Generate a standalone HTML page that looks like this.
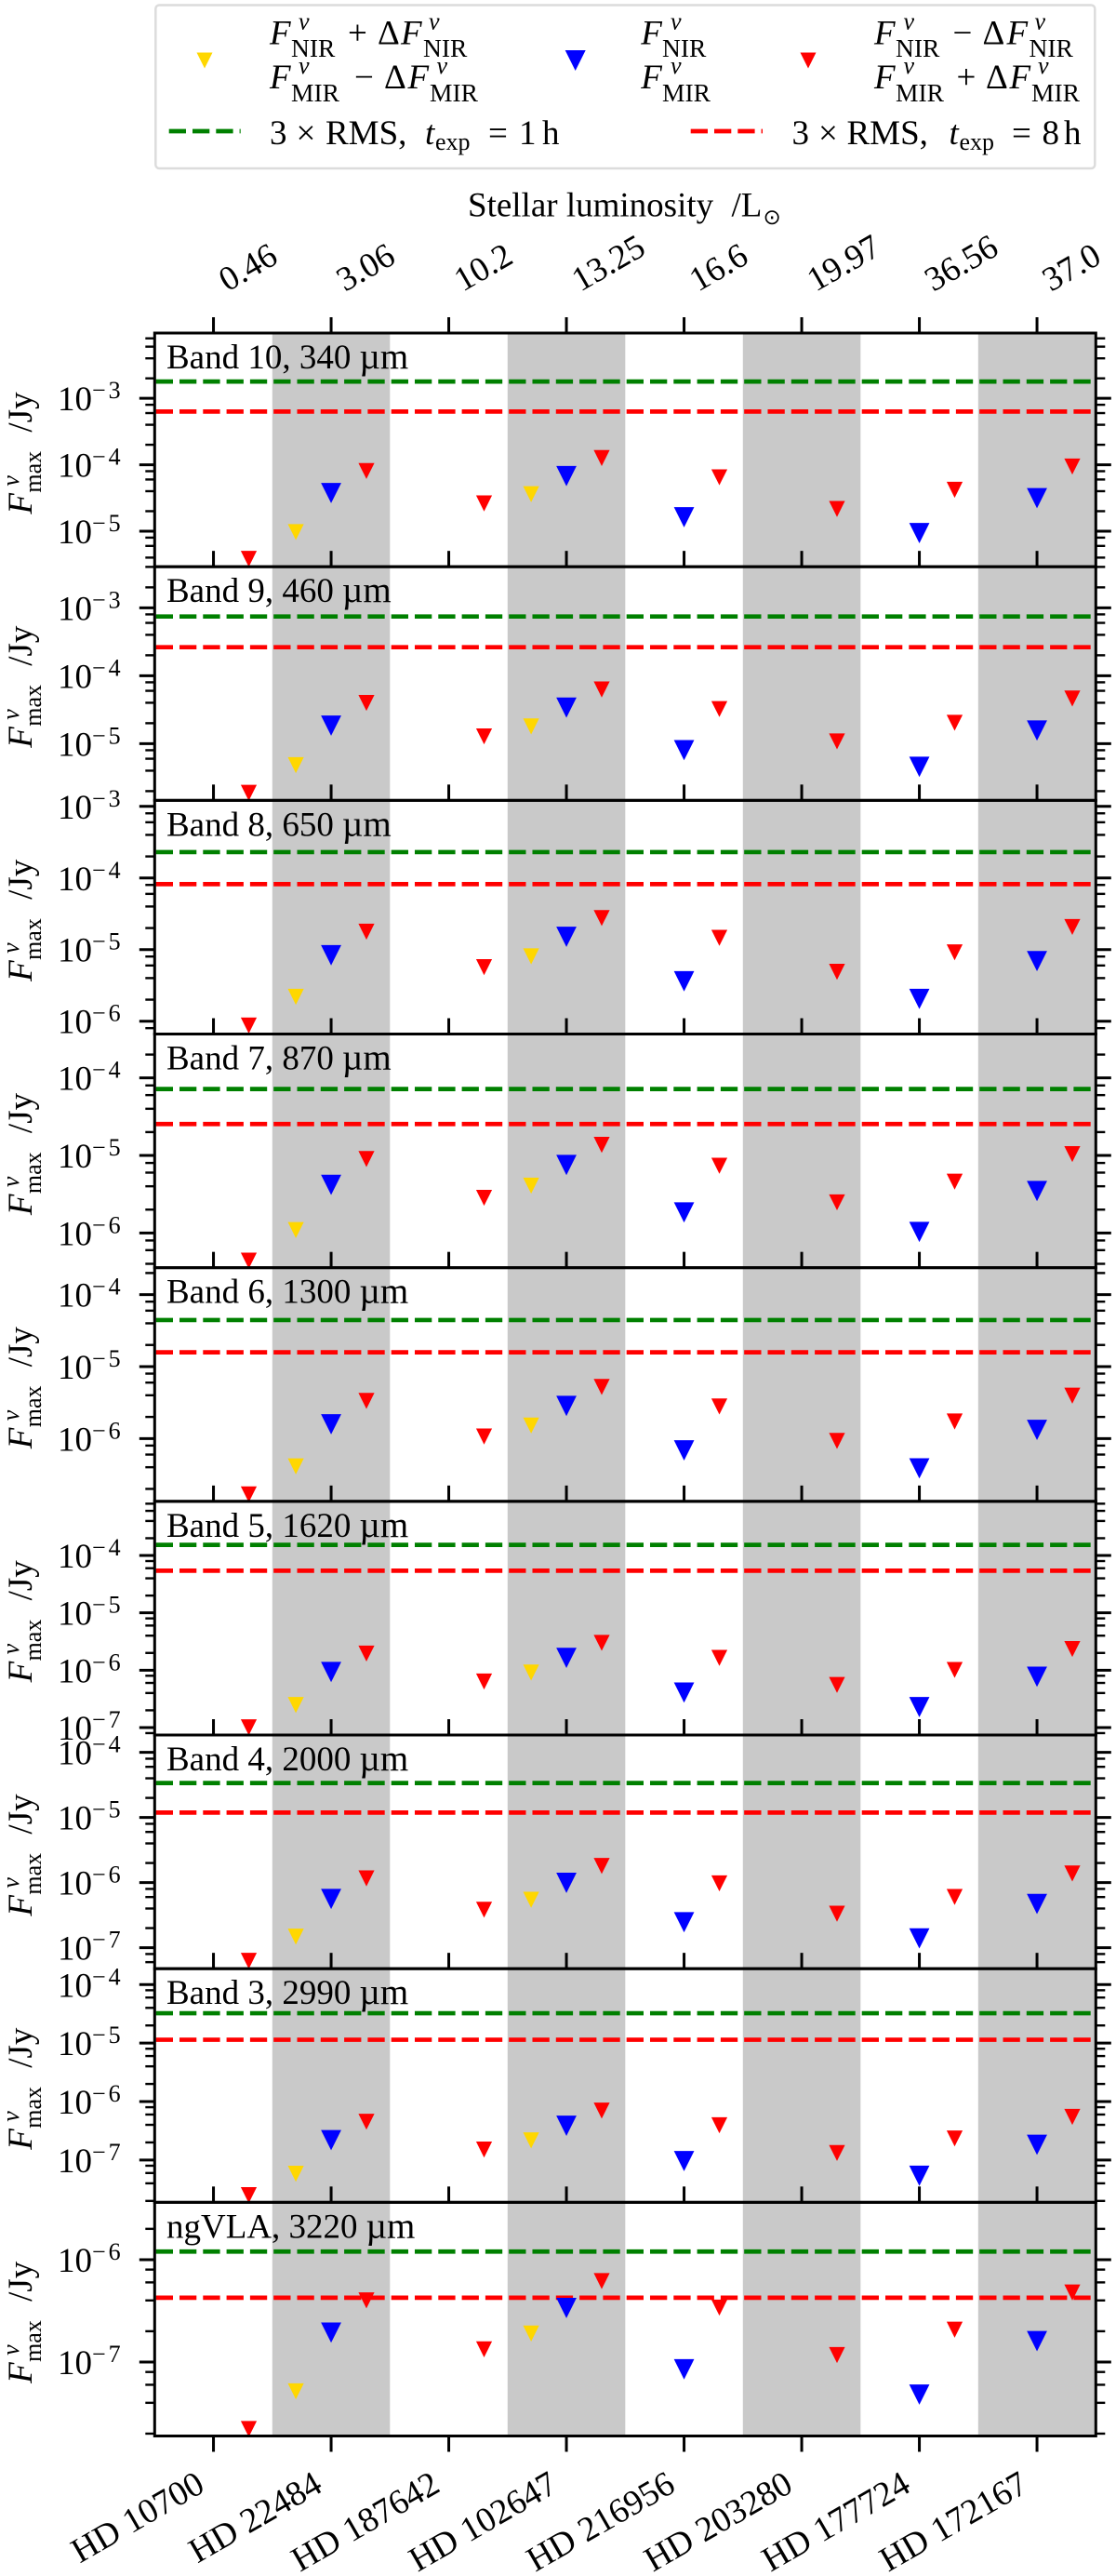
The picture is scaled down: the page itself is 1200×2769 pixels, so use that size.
<!DOCTYPE html>
<html lang="en">
<head>
<meta charset="utf-8">
<title>Maximum flux per band</title>
<style>
html,body{margin:0;padding:0;background:#fff;}
svg{display:block;}
text{font-family:"Liberation Serif","DejaVu Serif",serif;font-size:37px;fill:#000;}
.i{font-style:italic;}
.s{font-size:26px;}
.b{font-size:27.5px;}
</style>
</head>
<body>
<svg id="chart" xmlns="http://www.w3.org/2000/svg" width="1200" height="2769" viewBox="0 0 1200 2769">
  <rect x="0" y="0" width="1200" height="2769" fill="#fff"/>
  <g id="panels"></g>

  <g>
    <rect x="167.3" y="5.5" width="1010" height="175.5" rx="4" fill="#fff" stroke="#dcdcdc" stroke-width="2.5"/>

    <g>
      <polygon points="211.5,56.5 228.5,56.5 220,73.5" fill="#ffd700"/>
      <text class="i" x="290" y="47.7">F</text><text class="i s" x="321" y="31.7">ν</text><text class="b" x="313" y="61">NIR</text>
      <text x="374" y="47.7">+</text><text x="406" y="47.7">Δ</text>
      <text class="i" x="431" y="47.7">F</text><text class="i s" x="461" y="31.7">ν</text><text class="b" x="455" y="61">NIR</text>
      <text class="i" x="290" y="95">F</text><text class="i s" x="321" y="79">ν</text><text class="b" x="313" y="109">MIR</text>
      <text x="381" y="95">−</text><text x="413" y="95">Δ</text>
      <text class="i" x="438.5" y="95">F</text><text class="i s" x="469.5" y="79">ν</text><text class="b" x="462" y="109">MIR</text>
    </g>

    <g>
      <polygon points="607.7,54 629.7,54 618.7,76" fill="#0000ff"/>
      <text class="i" x="689.3" y="47.7">F</text><text class="i s" x="721" y="31.7">ν</text><text class="b" x="712" y="61">NIR</text>
      <text class="i" x="689.3" y="95">F</text><text class="i s" x="721" y="79">ν</text><text class="b" x="712" y="109">MIR</text>
    </g>

    <g>
      <polygon points="860.5,56.5 877.5,56.5 869,73.5" fill="#ff0000"/>
      <text class="i" x="940" y="47.7">F</text><text class="i s" x="971.5" y="31.7">ν</text><text class="b" x="963" y="61">NIR</text>
      <text x="1024.5" y="47.7">−</text><text x="1056.5" y="47.7">Δ</text>
      <text class="i" x="1082.5" y="47.7">F</text><text class="i s" x="1112.5" y="31.7">ν</text><text class="b" x="1106.5" y="61">NIR</text>
      <text class="i" x="940" y="95">F</text><text class="i s" x="971.5" y="79">ν</text><text class="b" x="963" y="109">MIR</text>
      <text x="1028.5" y="95">+</text><text x="1060" y="95">Δ</text>
      <text class="i" x="1085.5" y="95">F</text><text class="i s" x="1116" y="79">ν</text><text class="b" x="1109" y="109">MIR</text>
    </g>

    <g>
      <line x1="181.7" y1="141" x2="258.7" y2="141" stroke="#008000" stroke-width="4.7" stroke-dasharray="18.3 7"/>
      <text x="290" y="155">3</text><text x="318.5" y="155">×</text><text x="350" y="155">RMS,</text>
      <text class="i" x="457" y="155">t</text><text class="s" x="468" y="161">exp</text>
      <text x="525" y="155">=</text><text x="558" y="155">1</text><text x="583" y="155">h</text>
    </g>

    <g>
      <line x1="742.7" y1="141" x2="820" y2="141" stroke="#ff0000" stroke-width="4.7" stroke-dasharray="18.3 7"/>
      <text x="851.5" y="155">3</text><text x="880" y="155">×</text><text x="910.5" y="155">RMS,</text>
      <text class="i" x="1020.5" y="155">t</text><text class="s" x="1031.5" y="161">exp</text>
      <text x="1088" y="155">=</text><text x="1120.5" y="155">8</text><text x="1144" y="155">h</text>
    </g>
  </g>

  <g>
    <text x="503" y="232.7">Stellar luminosity</text>
    <text x="786.5" y="232.7">/L</text>
    <text x="820.5" y="241" style="font-family:'DejaVu Sans',sans-serif;font-size:23px;">⊙</text>
  </g>
</svg>

<script>
// ---- categories and axis labels ----
const categories = ['HD 10700','HD 22484','HD 187642','HD 102647','HD 216956','HD 203280','HD 177724','HD 172167'];
const luminosityLabels = ['0.46','3.06','10.2','13.25','16.6','19.97','36.56','37.0'];
const shadedCategories = [1,3,5,7];

// ---- panels, top to bottom ----
const bandNames = ['Band 10, 340','Band 9, 460','Band 8, 650','Band 7, 870','Band 6, 1300','Band 5, 1620','Band 4, 2000','Band 3, 2990','ngVLA, 3220'];
const yLogMax = [-2.017,-2.395,-2.916,-3.434,-3.625,-3.056,-3.733,-3.728,-5.44];
const yLogMin = [-5.535,-5.835,-6.179,-6.448,-6.872,-7.13,-7.322,-7.723,-7.722];

// ---- sensitivity lines (Jy) ----
const rms1h = [1.79e-3,7.45e-4,2.30e-4,7.18e-5,4.44e-5,1.53e-4,3.38e-5,3.24e-5,1.2e-6];
const rms8h = [6.33e-4,2.63e-4,8.2e-5,2.54e-5,1.58e-5,5.43e-5,1.19e-5,1.14e-5,4.25e-7];

// ---- series values (Jy), rows = panels, columns = categories ----
const fluxUpper = [
  [null,9.7e-6,null,3.6e-5,null,null,null,null],
  [null,4.82e-6,null,1.79e-5,null,null,null,null],
  [null,2.19e-6,null,8.05e-6,null,null,null,null],
  [null,1.09e-6,null,4.07e-6,null,null,null,null],
  [null,4.11e-7,null,1.52e-6,null,null,null,null],
  [null,2.47e-7,null,9.1e-7,null,null,null,null],
  [null,1.48e-7,null,5.45e-7,null,null,null,null],
  [null,5.83e-8,null,2.17e-7,null,null,null,null],
  [null,5.18e-8,null,1.9e-7,null,null,null,null]
];
const fluxNominal = [
  [null,3.75e-5,null,6.75e-5,1.62e-5,null,9.35e-6,3.14e-5],
  [null,1.84e-5,null,3.39e-5,8.02e-6,null,4.55e-6,1.56e-5],
  [null,8.34e-6,null,1.51e-5,3.61e-6,null,2.05e-6,6.9e-6],
  [null,4.17e-6,null,7.52e-6,1.84e-6,null,1.03e-6,3.47e-6],
  [null,1.58e-6,null,2.84e-6,6.86e-7,null,3.86e-7,1.32e-6],
  [null,9.29e-7,null,1.64e-6,4.08e-7,null,2.27e-7,7.69e-7],
  [null,5.6e-7,null,9.9e-7,2.46e-7,null,1.39e-7,4.69e-7],
  [null,2.19e-7,null,3.85e-7,9.6e-8,null,5.38e-8,1.82e-7],
  [null,1.94e-7,null,3.37e-7,8.5e-8,null,4.81e-8,1.6e-7]
];
const fluxLower = [
  [3.83e-6,8.05e-5,2.62e-5,1.26e-4,6.47e-5,2.16e-5,4.2e-5,9.4e-5],
  [1.89e-6,3.98e-5,1.28e-5,6.27e-5,3.23e-5,1.08e-5,2.03e-5,4.61e-5],
  [8.7e-7,1.78e-5,5.69e-6,2.76e-5,1.46e-5,4.9e-6,9.16e-6,2.07e-5],
  [4.39e-7,8.99e-6,2.84e-6,1.37e-5,7.35e-6,2.48e-6,4.59e-6,1.04e-5],
  [1.68e-7,3.34e-6,1.07e-6,5.22e-6,2.79e-6,9.29e-7,1.73e-6,3.95e-6],
  [1.01e-7,1.95e-6,6.35e-7,3.0e-6,1.64e-6,5.53e-7,1.01e-6,2.34e-6],
  [6.28e-8,1.16e-6,3.83e-7,1.8e-6,9.73e-7,3.32e-7,6.01e-7,1.38e-6],
  [2.51e-8,4.52e-7,1.51e-7,7.0e-7,3.93e-7,1.32e-7,2.34e-7,5.46e-7],
  [2.22e-8,4.0e-7,1.33e-7,6.18e-7,3.4e-7,1.17e-7,2.07e-7,4.78e-7]
];

// ---- layout ----
const NS = 'http://www.w3.org/2000/svg';
const plotLeft = 166.3, plotRight = 1178.3, plotTop = 358, plotBottom = 2618.5;
const panelHeight = (plotBottom - plotTop) / bandNames.length;
const root = document.getElementById('panels');

function xScale(v){ return plotLeft + (v + 0.5) / 8 * (plotRight - plotLeft); }
function yScale(panel, value){
  const top = plotTop + panel * panelHeight;
  return top + (yLogMax[panel] - Math.log10(value)) / (yLogMax[panel] - yLogMin[panel]) * panelHeight;
}
function make(tag, attrs, parent){
  const el = document.createElementNS(NS, tag);
  for (const k in attrs) el.setAttribute(k, attrs[k]);
  parent.appendChild(el);
  return el;
}
function triangle(cx, cy, half, color, parent){
  const pts = (cx-half)+','+(cy-half)+' '+(cx+half)+','+(cy-half)+' '+cx+','+(cy+half);
  return make('polygon', {points: pts, fill: color}, parent);
}

const defs = make('defs', {}, root);
const backLayer = make('g', {}, root);
const frontLayer = make('g', {}, root);

bandNames.forEach(function(name, p){
  const top = plotTop + p * panelHeight;
  const width = plotRight - plotLeft;

  const clip = make('clipPath', {id: 'clip' + p}, defs);
  make('rect', {x: plotLeft, y: top, width: width, height: panelHeight}, clip);

  const panel = make('g', {}, backLayer);
  
  

  const body = make('g', {'clip-path': 'url(#clip' + p + ')'}, panel);

  shadedCategories.forEach(function(c){
    const band = make('rect', {x: xScale(c - 0.5), y: top, width: xScale(c + 0.5) - xScale(c - 0.5), height: panelHeight, fill: '#c9c9c9'}, body);
    
    
  });

  const green = make('line', {x1: xScale(-0.489), x2: xScale(7.456), y1: yScale(p, rms1h[p]), y2: yScale(p, rms1h[p]), stroke: '#008000', 'stroke-width': 4.7, 'stroke-dasharray': '18.3 7'}, body);
  
  

  const red = make('line', {x1: xScale(-0.489), x2: xScale(7.456), y1: yScale(p, rms8h[p]), y2: yScale(p, rms8h[p]), stroke: '#ff0000', 'stroke-width': 4.7, 'stroke-dasharray': '18.3 7'}, body);
  
  

  categories.forEach(function(cat, c){
    if (fluxUpper[p][c] !== null) {
      const m = triangle(xScale(c - 0.3), yScale(p, fluxUpper[p][c]), 8.6, '#ffd700', body);
      
      
    }
    if (fluxNominal[p][c] !== null) {
      const m = triangle(xScale(c), yScale(p, fluxNominal[p][c]), 10.9, '#0000ff', body);
      
      
    }
    if (fluxLower[p][c] !== null) {
      const m = triangle(xScale(c + 0.3), yScale(p, fluxLower[p][c]), 8.6, '#ff0000', body);
      
      
    }
  });

  // band caption
  const caption = make('text', {x: 179, y: top + 38}, panel);
  
  
  caption.textContent = name;
  const unit = make('tspan', {dx: 9, 'font-size': 39}, caption);
  unit.textContent = 'µm';

  // y ticks
  const ticks = make('g', {stroke: '#000'}, frontLayer);
  
  
  for (let e = Math.floor(yLogMin[p]) - 1; e <= Math.ceil(yLogMax[p]); e++) {
    [1,2,4,6,8].forEach(function(sub){
      const lg = e + Math.log10(sub);
      if (lg < yLogMin[p] || lg > yLogMax[p]) return;
      const y = yScale(p, Math.pow(10, lg));
      const major = sub === 1;
      make('line', {x1: plotLeft - (major ? 16.5 : 10), x2: plotLeft, y1: y, y2: y, 'stroke-width': major ? 3 : 2.4}, ticks);
      make('line', {x1: plotRight, x2: plotRight + (major ? 16.5 : 10), y1: y, y2: y, 'stroke-width': major ? 3 : 2.4}, ticks);
      if (major) {
        const lab = make('text', {x: 62, y: y + 13, stroke: 'none'}, frontLayer);
        
        
        const base = make('tspan', {}, lab);
        base.textContent = '10';
        const pow = make('tspan', {dy: -13, 'font-size': 26, 'letter-spacing': 3}, lab);
        pow.textContent = '−' + Math.abs(e);
      }
    });
  }

  // top x ticks
  categories.forEach(function(cat, c){
    const t = make('line', {x1: xScale(c), x2: xScale(c), y1: top - 17, y2: top, stroke: '#000', 'stroke-width': 3}, frontLayer);
    
    
  });

  // spines
  const frame = make('rect', {x: plotLeft, y: top, width: width, height: panelHeight, fill: 'none', stroke: '#000', 'stroke-width': 3}, frontLayer);
  
  

  // y-axis title
  const title = make('g', {transform: 'translate(34,' + (top + panelHeight / 2) + ') rotate(-90)'}, frontLayer);
  
  
  const tF = make('text', {x: -69, y: 0, class: 'i'}, title);
  tF.textContent = 'F';
  const tNu = make('text', {x: -39, y: -14, class: 'i s'}, title);
  tNu.textContent = 'ν';
  const tMax = make('text', {x: -46, y: 10, class: 's'}, title);
  tMax.textContent = 'max';
  const tUnit = make('text', {x: 19, y: 0}, title);
  tUnit.textContent = '/Jy';
});

// top axis labels (first panel)
luminosityLabels.forEach(function(label, c){
  const t = make('text', {transform: 'translate(' + (xScale(c) + 15) + ',314) rotate(-30)'}, frontLayer);
  
  
  t.textContent = label;
});

// bottom axis ticks + labels (last panel)
categories.forEach(function(cat, c){
  const tick = make('line', {x1: xScale(c), x2: xScale(c), y1: plotBottom, y2: plotBottom + 17, stroke: '#000', 'stroke-width': 3}, frontLayer);
  
  
  const t = make('text', {transform: 'translate(' + (xScale(c) - 7.5) + ',2677) rotate(-30)', 'text-anchor': 'end', style: 'font-size:37.5px'}, frontLayer);
  
  
  t.textContent = cat;
});
</script>
</body>
</html>
